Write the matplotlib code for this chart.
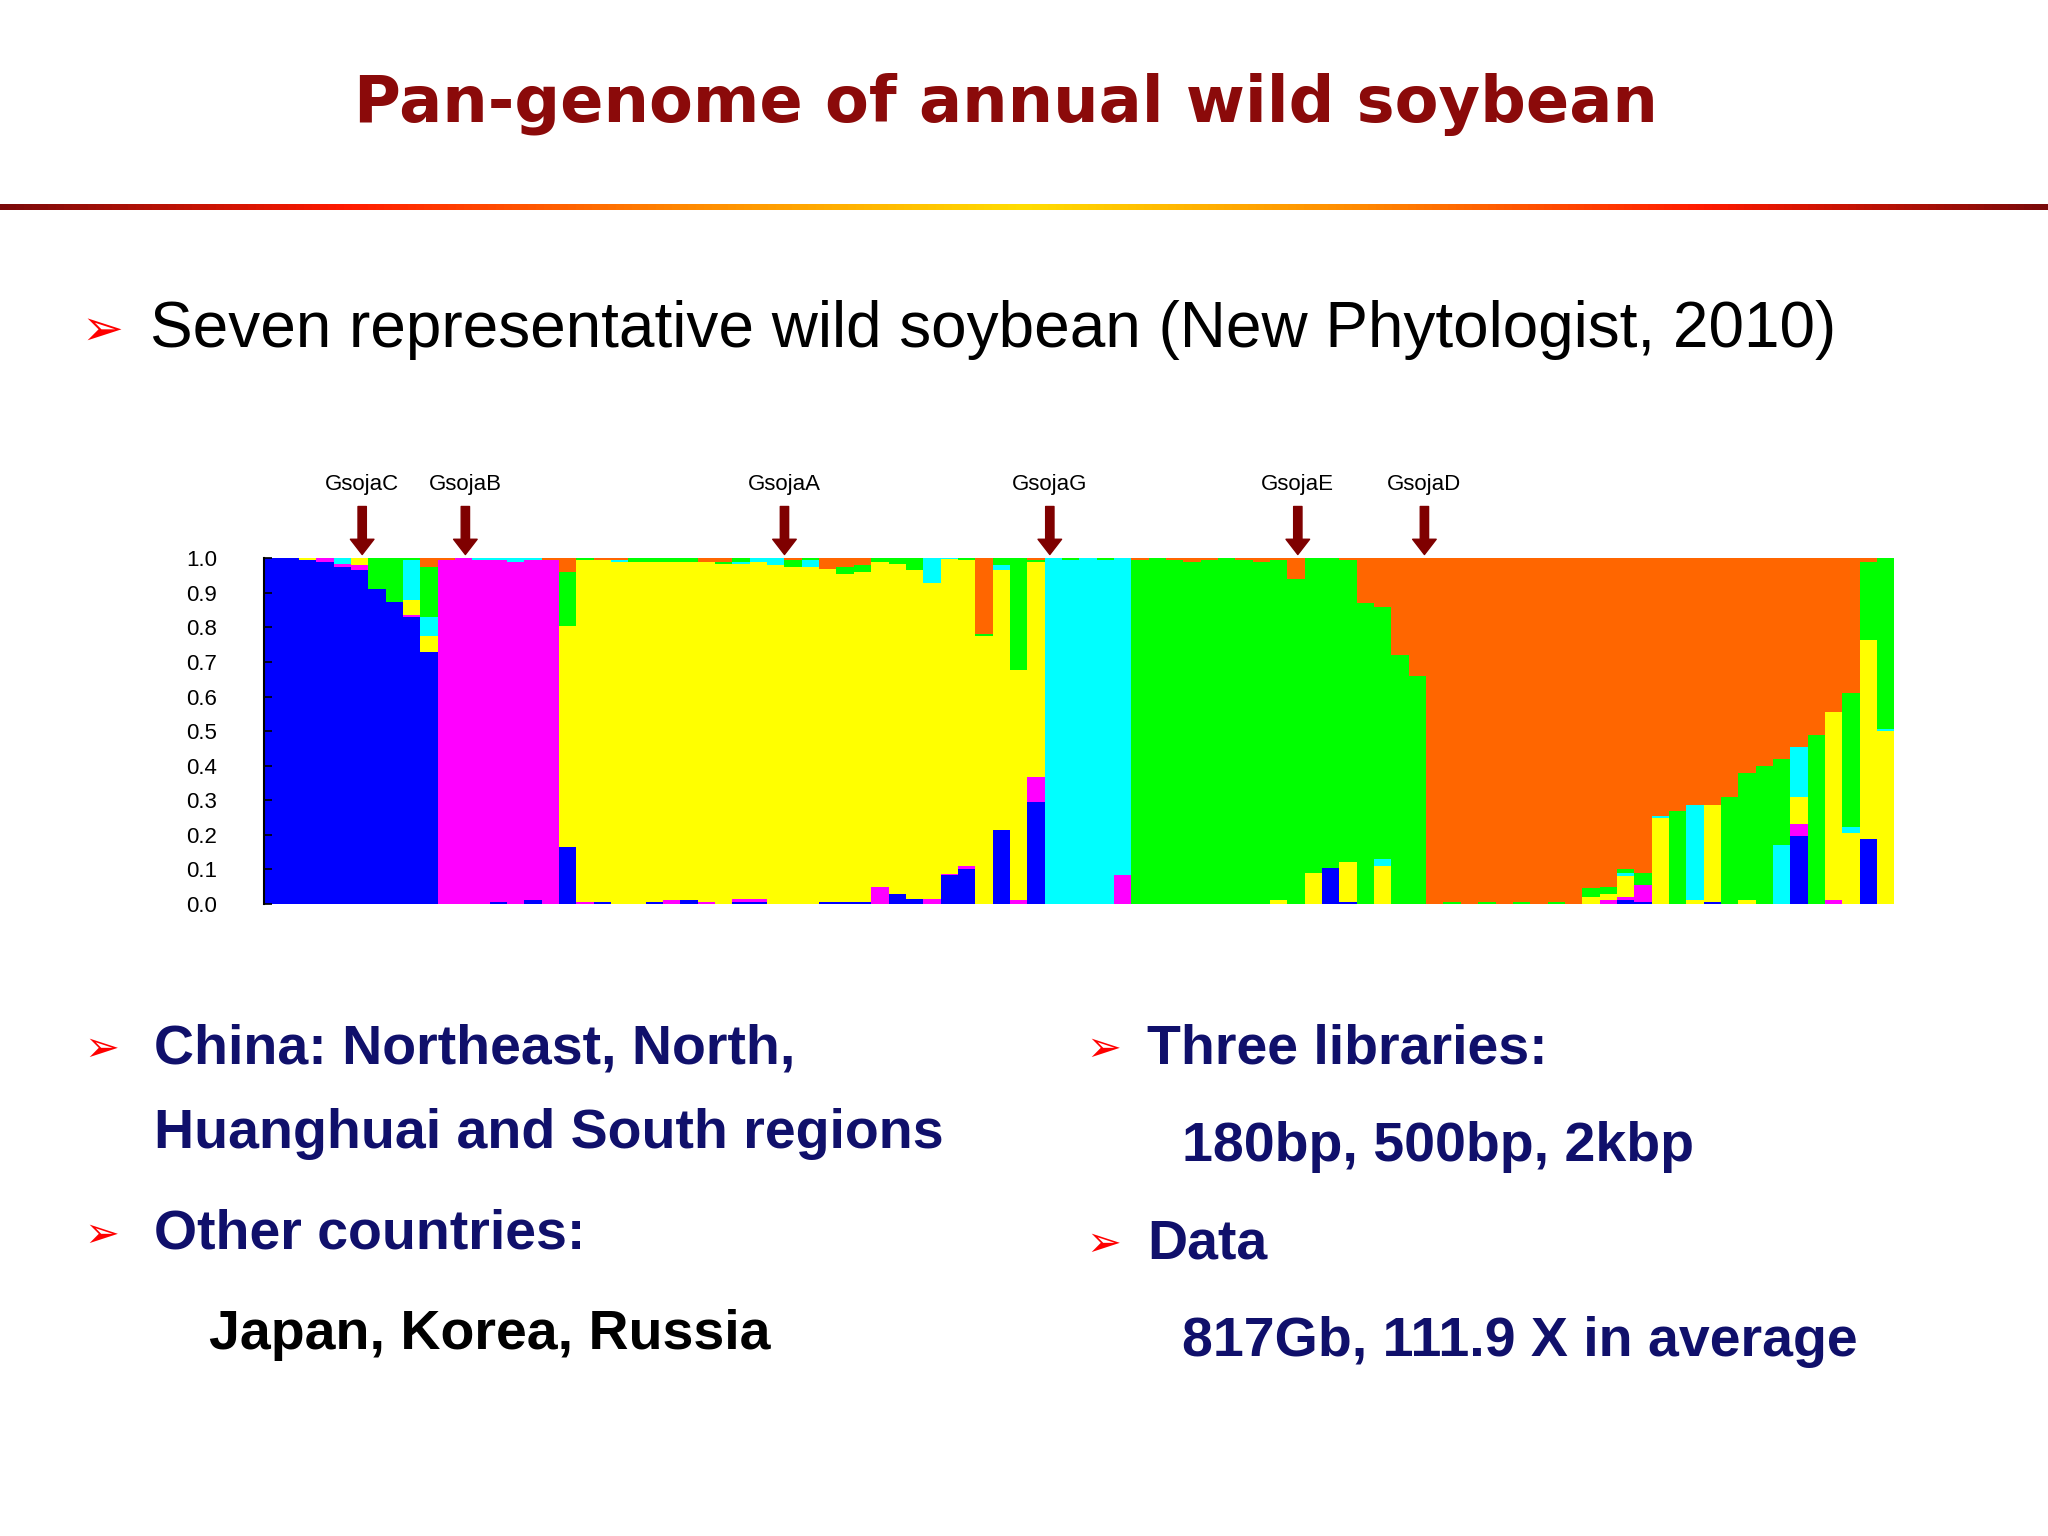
import numpy as np
import matplotlib
matplotlib.use("Agg")
import matplotlib.pyplot as plt
from matplotlib.colors import LinearSegmentedColormap

# cluster memberships per individual (STRUCTURE plot)
blue = [1, 1, .995, .99, .975, .965, .91, .875, .83, .73,
        0, 0, 0, .005, 0, .01, 0, .165,
        0, .005, 0, 0, .005, 0, .01, 0, 0, .005, .005, 0, 0, 0,
        .005, .005, .005, 0, .03, .015, 0, .083, .10, 0, .214, 0, .295,
        0, 0, 0, 0, 0,
        0, 0, 0, 0, 0, 0, 0, 0, 0, 0, 0, .105, .005, 0, 0, 0, 0,
        0, 0, 0, 0, 0, 0, 0, 0, 0, 0, 0, .01, .005, 0, 0, 0, .005, 0, 0, 0, 0, .197, 0, 0, 0,
        .187, 0]
magenta = [0, 0, 0, .01, .01, .015, 0, 0, .005, 0,
           .995, 1, .995, .99, .99, .985, .995, 0,
           .005, 0, 0, 0, 0, .01, 0, .005, 0, .01, .01, 0, 0, 0,
           0, 0, 0, .048, 0, 0, .015, .005, .01, 0, 0, .01, .072,
           0, 0, 0, 0, .085,
           0, 0, 0, 0, 0, 0, 0, 0, 0, 0, 0, 0, 0, 0, 0, 0, 0,
           0, 0, 0, 0, 0, 0, 0, 0, 0, 0, .01, .01, .05, 0, 0, 0, 0, 0, 0, 0, 0, .033, 0, .01, 0,
           0, 0]
yellow = [0, 0, .005, 0, 0, .02, 0, 0, .045, .045,
          0, 0, 0, 0, 0, 0, 0, .64,
          .99, .99, .99, .99, .985, .98, .98, .985, .985, .97, .975, .98, .975, .975,
          .965, .95, .955, .94, .955, .95, .915, .91, .885, .775, .751, .667, .623,
          0, 0, 0, 0, 0,
          0, 0, 0, 0, 0, 0, 0, 0, .01, 0, .09, 0, .115, 0, .11, 0, 0,
          0, 0, 0, 0, 0, 0, 0, 0, 0, .02, .02, .06, 0, .25, 0, .01, .28, 0, .01, 0, 0, .08, 0, .545, .206,
          .578, .50]
cyan = [0, 0, 0, 0, .015, 0, 0, 0, .115, .055,
        0, 0, .005, .005, .01, .005, 0, 0,
        0, 0, .005, 0, 0, 0, 0, 0, 0, .005, .01, .02, 0, .02,
        0, 0, 0, 0, 0, 0, .07, .002, 0, 0, .015, 0, 0,
        1, .995, 1, .995, .915,
        0, 0, 0, 0, 0, 0, 0, 0, 0, 0, 0, 0, 0, 0, .02, 0, 0,
        0, 0, 0, 0, 0, 0, 0, 0, 0, 0, 0, .01, 0, .005, 0, .275, 0, 0, 0, 0, .17, .145, 0, 0, .018,
        0, .005]
green = [0, 0, 0, 0, 0, 0, .09, .125, .005, .145,
         0, 0, 0, 0, 0, 0, 0, .155,
         .005, 0, 0, .01, .01, .01, .01, 0, .005, .01, 0, 0, .02, .005,
         0, .02, .02, .012, .015, .035, 0, 0, .005, .005, .02, .323, .005,
         0, .005, 0, .005, 0,
         .995, 1, .995, .99, .995, 1, .995, .99, .985, .94, .91, .895, .875, .87, .73, .72, .66,
         0, .005, 0, .005, 0, .005, 0, .005, 0, .025, .02, .01, .035, 0, .27, 0, 0, .31, .37, .40, .25, 0, .49, 0, .386,
         .225, .495]
orange = [0, 0, 0, 0, 0, 0, 0, 0, 0, .025,
          .005, 0, 0, 0, 0, 0, .005, .04,
          0, .005, .005, 0, 0, 0, 0, .01, .01, 0, 0, 0, .005, 0,
          .03, .025, .02, 0, 0, 0, 0, 0, 0, .22, 0, 0, .005,
          0, 0, 0, 0, 0,
          .005, 0, .005, .01, .005, 0, .005, .01, .005, .06, 0, 0, .005, .13, .14, .28, .34,
          1, .995, 1, .995, 1, .995, 1, .995, 1, .955, .95, .91, .91, .745, .73, .715, .715, .69, .62, .60, .58, .545, .51, .445, .39,
          .01, 0]

clusters = [blue, magenta, yellow, cyan, green, orange]
colors = ["#0000ff", "#ff00ff", "#ffff00", "#00ffff", "#00ff00", "#ff6600"]

marker_names = ["GsojaC", "GsojaB", "GsojaA", "GsojaG", "GsojaE", "GsojaD"]
marker_pos = [5.15, 11.1, 29.5, 44.8, 59.1, 66.4]

y_ticks = [0.0, 0.1, 0.2, 0.3, 0.4, 0.5, 0.6, 0.7, 0.8, 0.9, 1.0]

navy = "#10106b"
red = "#ff0000"

fig = plt.figure(figsize=(20.48, 15.36), dpi=100)
fig.patch.set_facecolor("white")

# Title
fig.text(0.491, 0.932, "Pan-genome of annual wild soybean", ha="center", va="center",
         fontsize=46, fontweight="bold", color="#8b0a0a", family="DejaVu Sans")

# gradient rule under the title
gax = fig.add_axes([0, 0.863, 1, 0.0045])
cmap = LinearSegmentedColormap.from_list(
    "rule", ["#7a0a0a", "#ff1a00", "#ff8800", "#ffdd00", "#ff8800", "#ff1a00", "#7a0a0a"])
gax.imshow(np.linspace(0, 1, 512)[None, :], aspect="auto", cmap=cmap)
gax.axis("off")

# top bullet line
fig.text(0.050, 0.785, "\u27a2", ha="center", va="center", fontsize=36, color=red,
         family="DejaVu Sans")
fig.text(0.0733, 0.785, "Seven representative wild soybean (New Phytologist, 2010)",
         ha="left", va="center", fontsize=46, color="black", family="Liberation Sans")

# STRUCTURE bar chart
ax = fig.add_axes([0.129, 0.4115, 0.796, 0.225])
x = np.arange(len(blue))
bottom = np.zeros(len(blue))
for vals, c in zip(clusters, colors):
    vals = np.array(vals, dtype=float)
    ax.bar(x, vals, bottom=bottom, width=1.0, color=c, edgecolor="none", linewidth=0)
    bottom += vals

ax.set_xlim(-0.5, len(blue) - 0.5)
ax.set_ylim(0, 1.0)
ax.set_yticks(y_ticks)
ax.set_yticklabels([f"{t:.1f}" for t in y_ticks], fontsize=16, family="Liberation Sans")
ax.tick_params(axis="y", direction="in", length=6, width=1.2, pad=34)
ax.set_xticks([])
for s in ["top", "right", "bottom"]:
    ax.spines[s].set_visible(False)
ax.spines["left"].set_linewidth(1.5)

for name, pos in zip(marker_names, marker_pos):
    ax.annotate("", xy=(pos, 1.011), xytext=(pos, 1.15),
                xycoords=("data", "axes fraction"), textcoords=("data", "axes fraction"),
                arrowprops=dict(width=6, headwidth=17, headlength=11, color="#7f0000"),
                annotation_clip=False)
    ax.text(pos, 1.215, name, transform=ax.get_xaxis_transform(), ha="center",
            va="center", fontsize=16, family="Liberation Sans")

# bottom bullet text
for bx, by in [(0.0497, 0.317), (0.0497, 0.196), (0.539, 0.317), (0.539, 0.190)]:
    fig.text(bx, by, "\u27a2", ha="center", va="center", fontsize=30, color=red,
             family="DejaVu Sans")

body = dict(ha="left", va="center", fontsize=40, fontweight="bold", family="Liberation Sans")
fig.text(0.0753, 0.317, "China: Northeast, North,", color=navy, **body)
fig.text(0.0753, 0.262, "Huanghuai and South regions", color=navy, **body)
fig.text(0.0753, 0.196, "Other countries:", color=navy, **body)
fig.text(0.102, 0.131, "Japan, Korea, Russia", color="black", **body)
fig.text(0.560, 0.317, "Three libraries:", color=navy, **body)
fig.text(0.577, 0.253, "180bp, 500bp, 2kbp", color=navy, **body)
fig.text(0.560, 0.190, "Data", color=navy, **body)
fig.text(0.577, 0.126, "817Gb, 111.9 X in average", color=navy, **body)

fig.savefig("out.png", dpi=100, facecolor="white")
